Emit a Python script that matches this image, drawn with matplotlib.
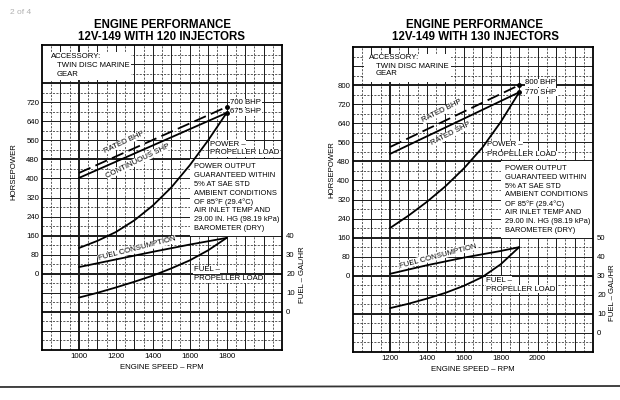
import numpy as np
import matplotlib
matplotlib.use("Agg")
import matplotlib.pyplot as plt
from matplotlib.patches import Rectangle
from matplotlib.lines import Line2D

plt.rcParams['font.family'] = ['Liberation Sans', 'DejaVu Sans']

W, H = 620, 400

# ---------------- data: left chart (120 injectors) ----------------
L_title = ["ENGINE PERFORMANCE", "12V-149 WITH 120 INJECTORS"]
L_rated_rpm = [1000, 1800]
L_rated_bhp = [423, 700]
L_cont_rpm = [1000, 1800]
L_cont_shp = [402, 675]
L_prop_rpm = [1000, 1100, 1200, 1300, 1400, 1500, 1600, 1700, 1800]
L_prop_hp = [108, 138, 175, 224, 286, 362, 455, 560, 675]
L_fuel_rpm = [1000, 1200, 1400, 1600, 1800]
L_fuel_cons = [23.5, 27.5, 31.5, 35.3, 38.8]
L_fprop_rpm = [1000, 1100, 1200, 1300, 1400, 1500, 1600, 1700, 1800]
L_fprop = [7.5, 10.0, 12.8, 15.8, 19.0, 22.8, 27.0, 32.3, 38.8]
L_xticks = [1000, 1200, 1400, 1600, 1800]
L_hpticks = [0, 80, 160, 240, 320, 400, 480, 560, 640, 720]
L_fticks = [0, 10, 20, 30, 40]

# ---------------- data: right chart (130 injectors) ----------------
R_title = ["ENGINE PERFORMANCE", "12V-149 WITH 130 INJECTORS"]
R_rated_rpm = [1200, 1900]
R_rated_bhp = [540, 800]
R_shp_rpm = [1200, 1900]
R_shp = [511, 770]
R_prop_rpm = [1200, 1300, 1400, 1500, 1600, 1700, 1800, 1900]
R_prop_hp = [200, 252, 310, 375, 450, 537, 645, 770]
R_fuel_rpm = [1200, 1400, 1600, 1800, 1900]
R_fuel_cons = [31.0, 35.5, 39.5, 43.0, 45.0]
R_fprop_rpm = [1200, 1300, 1400, 1500, 1600, 1700, 1800, 1900]
R_fprop = [13.0, 15.3, 18.0, 21.0, 24.7, 29.3, 36.0, 45.0]
R_xticks = [1200, 1400, 1600, 1800, 2000]
R_hpticks = [0, 80, 160, 240, 320, 400, 480, 560, 640, 720, 800]
R_fticks = [0, 10, 20, 30, 40, 50]

BOX_TEXT = ["POWER OUTPUT", "GUARANTEED WITHIN", "5% AT SAE STD",
            "AMBIENT CONDITIONS", "OF 85\u00b0F (29.4\u00b0C)",
            "AIR INLET TEMP AND", "29.00 IN. HG (98.19 kPa)", "BAROMETER (DRY)"]

fig = plt.figure(figsize=(W / 100, H / 100), dpi=100)
fig.patch.set_facecolor('white')

FS = 5.6
BFS = 5.4
WB = dict(facecolor='white', edgecolor='none', pad=0.3)
GC = '#1a1a1a'


def px2fig(px, py):
    return px / W, 1 - py / H


def make_axes(left_px, top_px, xlim, fuel_off, heavy_x):
    x0, y1 = px2fig(left_px, top_px)
    ax = fig.add_axes([x0, y1 - 305 / H, 240 / W, 305 / H])
    ax.set_xlim(*xlim)
    ax.set_ylim(-320, 960)
    # grid
    for v in np.arange(xlim[0] + 50, xlim[1], 50):
        if v in heavy_x:
            ax.axvline(v, color=GC, lw=1.4, zorder=1)
        elif v % 100 == 0:
            ax.axvline(v, color=GC, lw=0.7, zorder=1)
        else:
            ax.axvline(v, color=GC, lw=0.5, ls=(0, (3, 2)), zorder=1)
    for h in np.arange(-280, 960, 40):
        if h in (-160, 0, 160, 480, 800):
            ax.axhline(h, color=GC, lw=1.4, zorder=1)
        elif h % 80 == 0:
            ax.axhline(h, color=GC, lw=0.7, zorder=1)
        else:
            ax.axhline(h, color=GC, lw=0.5, ls=(0, (3, 2)), zorder=1)
    for s in ax.spines.values():
        s.set_linewidth(1.3)
        s.set_zorder(5)
    ax.tick_params(length=0, labelsize=FS, pad=2)
    axf = ax.twinx()
    axf.set_ylim(-320 / 8 + fuel_off, 960 / 8 + fuel_off)
    axf.tick_params(length=0, labelsize=FS, pad=3)
    for s in axf.spines.values():
        s.set_visible(False)
    axf.set_zorder(ax.get_zorder() + 1)
    axf.patch.set_visible(False)
    return ax, axf


def common(ax, axf, xticks, hpticks, fticks, title, cx, ylab_px, flab_px):
    ax.set_xticks(xticks)
    ax.set_xticklabels([str(t) for t in xticks])
    ax.set_yticks(hpticks)
    ax.set_yticklabels([str(t) for t in hpticks])
    axf.set_yticks(fticks)
    axf.set_yticklabels([str(t) for t in fticks])
    ax.set_xlabel("ENGINE SPEED \u2013 RPM", fontsize=FS, labelpad=3)
    fx, fy = px2fig(cx, 25)
    fig.text(fx, fy, title[0], ha='center', va='center', fontsize=8.3, fontweight='bold')
    fx, fy = px2fig(cx, 37)
    fig.text(fx, fy, title[1], ha='center', va='center', fontsize=8.3, fontweight='bold')
    fx, fy = px2fig(*ylab_px)
    fig.text(fx, fy, "HORSEPOWER", rotation=90, ha='center', va='center', fontsize=FS)
    fx, fy = px2fig(*flab_px)
    fig.text(fx, fy, "FUEL \u2013 GAL/HR", rotation=90, ha='center', va='center', fontsize=FS)


def curve(ax, x, y, **kw):
    ax.plot(x, y, color='black', lw=1.3, zorder=4, solid_capstyle='round', **kw)


# ================= LEFT =================
axL, axLf = make_axes(42, 45, (800, 2100), 20, [1000])
axL.add_patch(Rectangle((1600, 160), 500, 320, fc='white', ec='none', zorder=2))
axL.add_patch(Rectangle((800, 815), 480, 115, fc='white', ec='none', zorder=2))
curve(axL, L_rated_rpm, L_rated_bhp, ls=(0, (7, 3)))
curve(axL, L_cont_rpm, L_cont_shp)
curve(axL, L_prop_rpm, L_prop_hp)
axL.plot([L_rated_rpm[-1], L_cont_rpm[-1]], [L_rated_bhp[-1], L_cont_shp[-1]],
         'o', color='black', ms=2.5, zorder=6)
curve(axLf, L_fuel_rpm, L_fuel_cons)
curve(axLf, L_fprop_rpm, L_fprop)

axL.text(849, 910, "ACCESSORY:", fontsize=FS, va='center', zorder=3)
axL.text(881, 872, "TWIN DISC MARINE", fontsize=FS, va='center', zorder=3)
axL.text(881, 838, "GEAR", fontsize=FS, va='center', zorder=3)
axL.text(1820, 717, "700 BHP", fontsize=FS, va='center', bbox=WB, zorder=3)
axL.text(1820, 679, "675 SHP", fontsize=FS, va='center', bbox=WB, zorder=3)
axL.text(1712, 544, "POWER \u2013", fontsize=FS, va='center', bbox=WB, zorder=3)
axL.text(1712, 507, "PROPELLER LOAD", fontsize=FS, va='center', bbox=WB, zorder=3)
for i, line in enumerate(BOX_TEXT):
    axL.text(1622, 448 - i * 36.6, line, fontsize=BFS, va='center', zorder=3)
axL.text(1622, 16, "FUEL \u2013", fontsize=FS, va='center', bbox=WB, zorder=3)
axL.text(1622, -22, "PROPELLER LOAD", fontsize=FS, va='center', bbox=WB, zorder=3)
axL.text(1244, 552, "RATED BHP", fontsize=FS, ha='center', va='center', rotation=25,
         bbox=WB, zorder=3)
axL.text(1322, 474, "CONTINUOUS SHP", fontsize=FS, ha='center', va='center', rotation=26,
         bbox=WB, zorder=3)
axL.text(1315, 104, "FUEL CONSUMPTION", fontsize=FS, ha='center', va='center', rotation=14.5,
         bbox=WB, zorder=3)
common(axL, axLf, L_xticks, L_hpticks, L_fticks, L_title, 162, (14, 172), (302, 275))

# ================= RIGHT =================
axR, axRf = make_axes(353, 47, (1000, 2300), 30, [1200])
axR.add_patch(Rectangle((1800, 160), 500, 320, fc='white', ec='none', zorder=2))
axR.add_patch(Rectangle((1060, 815), 470, 115, fc='white', ec='none', zorder=2))
curve(axR, R_rated_rpm, R_rated_bhp, ls=(0, (7, 3)))
curve(axR, R_shp_rpm, R_shp)
curve(axR, R_prop_rpm, R_prop_hp)
axR.plot([R_rated_rpm[-1], R_shp_rpm[-1]], [R_rated_bhp[-1], R_shp[-1]],
         'o', color='black', ms=2.5, zorder=6)
curve(axRf, R_fuel_rpm, R_fuel_cons)
curve(axRf, R_fprop_rpm, R_fprop)

axR.text(1086, 918, "ACCESSORY:", fontsize=FS, va='center', zorder=3)
axR.text(1125, 880, "TWIN DISC MARINE", fontsize=FS, va='center', zorder=3)
axR.text(1125, 847, "GEAR", fontsize=FS, va='center', zorder=3)
axR.text(1932, 809, "800 BHP", fontsize=FS, va='center', bbox=WB, zorder=3)
axR.text(1932, 771, "770 SHP", fontsize=FS, va='center', bbox=WB, zorder=3)
axR.text(1726, 549, "POWER \u2013", fontsize=FS, va='center', bbox=WB, zorder=3)
axR.text(1726, 507, "PROPELLER LOAD", fontsize=FS, va='center', bbox=WB, zorder=3)
for i, line in enumerate(BOX_TEXT):
    axR.text(1823, 452 - i * 37.7, line, fontsize=BFS, va='center', zorder=3)
axR.text(1720, -18, "FUEL \u2013", fontsize=FS, va='center', bbox=WB, zorder=3)
axR.text(1720, -56, "PROPELLER LOAD", fontsize=FS, va='center', bbox=WB, zorder=3)
axR.text(1482, 690, "RATED BHP", fontsize=FS, ha='center', va='center', rotation=26.5,
         bbox=WB, zorder=3)
axR.text(1530, 595, "RATED SHP", fontsize=FS, ha='center', va='center', rotation=27,
         bbox=WB, zorder=3)
axR.text(1460, 83, "FUEL CONSUMPTION", fontsize=FS, ha='center', va='center', rotation=14.7,
         bbox=WB, zorder=3)
common(axR, axRf, R_xticks, R_hpticks, R_fticks, R_title, 475, (332, 170), (612, 293))

# page decorations
fig.text(10 / W, 1 - 13 / H, "2 of 4", fontsize=6, color='#b0b0b0', va='center')
fig.add_artist(Line2D([0, 1], [1 - 387 / H, 1 - 386 / H], color='#333333', lw=1.3))

fig.savefig("out.png", dpi=100, facecolor='white')
